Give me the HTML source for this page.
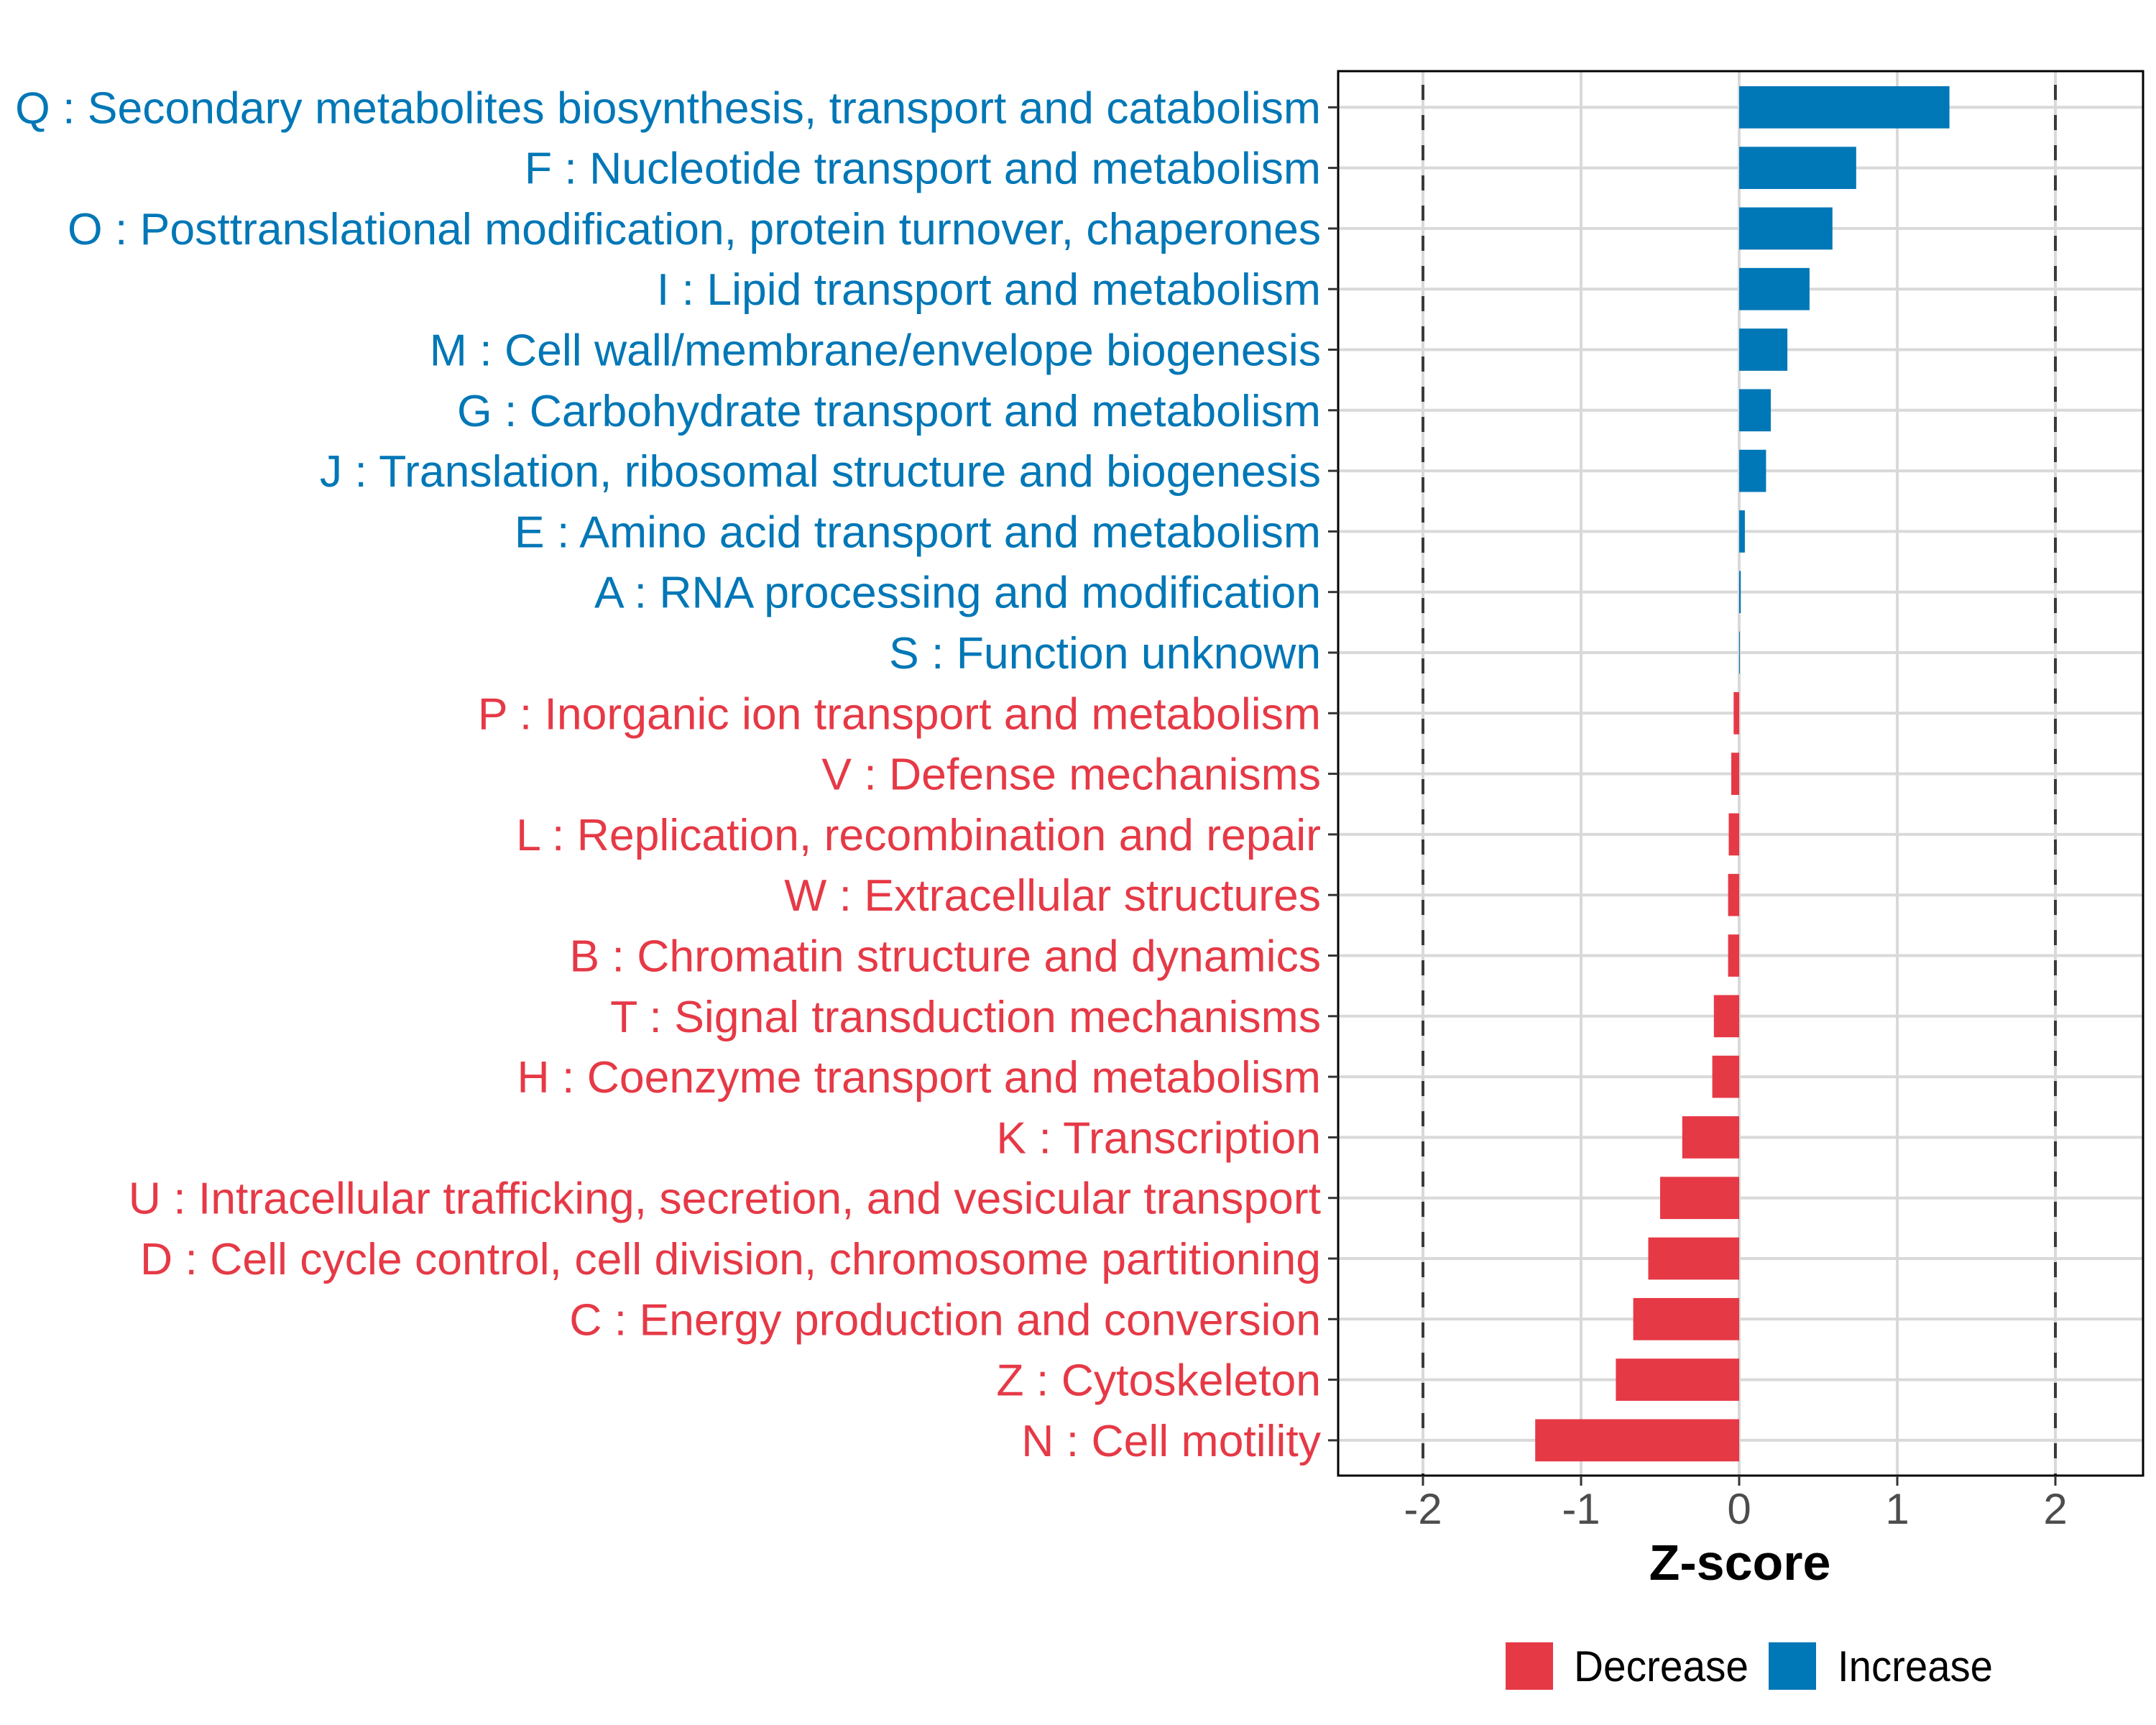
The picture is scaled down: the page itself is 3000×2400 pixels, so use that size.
<!DOCTYPE html>
<html><head><meta charset="utf-8"><style>
html,body{margin:0;padding:0;background:#fff;width:3000px;height:2400px;overflow:hidden}
svg{display:block;font-family:"Liberation Sans",Arial,sans-serif}
</style></head><body>
<svg id="chart" width="3000" height="2400" viewBox="0 0 3000 2400" xmlns="http://www.w3.org/2000/svg">
<g id="grid"></g>
<g id="bars"></g>
<g id="ref"></g>
<rect x="1862" y="99" width="1120" height="1954" fill="none" stroke="#000" stroke-width="3"/>
<g id="ylabels"></g>
<g id="xaxis"></g>
<text x="2421" y="2198" text-anchor="middle" font-size="70" font-weight="bold" fill="#000">Z-score</text>
<g>
<rect x="2095" y="2285" width="66" height="66" fill="#E63946"/>
<text x="2190" y="2339" font-size="60" fill="#000" textLength="243" lengthAdjust="spacingAndGlyphs">Decrease</text>
<rect x="2461" y="2285" width="66" height="66" fill="#0077B6"/>
<text x="2557" y="2339" font-size="60" fill="#000" textLength="216" lengthAdjust="spacingAndGlyphs">Increase</text>
</g>
</svg>
<script>
const categories = ["Q : Secondary metabolites biosynthesis, transport and catabolism","F : Nucleotide transport and metabolism","O : Posttranslational modification, protein turnover, chaperones","I : Lipid transport and metabolism","M : Cell wall/membrane/envelope biogenesis","G : Carbohydrate transport and metabolism","J : Translation, ribosomal structure and biogenesis","E : Amino acid transport and metabolism","A : RNA processing and modification","S : Function unknown","P : Inorganic ion transport and metabolism","V : Defense mechanisms","L : Replication, recombination and repair","W : Extracellular structures","B : Chromatin structure and dynamics","T : Signal transduction mechanisms","H : Coenzyme transport and metabolism","K : Transcription","U : Intracellular trafficking, secretion, and vesicular transport","D : Cell cycle control, cell division, chromosome partitioning","C : Energy production and conversion","Z : Cytoskeleton","N : Cell motility"];
const zscores = [1.33,0.74,0.59,0.445,0.305,0.20,0.17,0.036,0.01,0.004,-0.035,-0.05,-0.066,-0.07,-0.07,-0.16,-0.17,-0.36,-0.50,-0.575,-0.67,-0.78,-1.29];
const xTicks = [-2,-1,0,1,2];
const xTickLabels = ["-2","-1","0","1","2"];
const refLines = [-2,2];
const NS="http://www.w3.org/2000/svg";
const X0=2420, XU=220, Y0=149.3, YS=84.3, BH=58.7, PL=1862, PR=2982, PT=99, PB=2053;
const xs=v=>X0+v*XU, ys=i=>Y0+i*YS;
const blue="#0077B6", red="#E63946";
function mk(tag,attrs,parent){const e=document.createElementNS(NS,tag);for(const k in attrs)e.setAttribute(k,attrs[k]);parent.appendChild(e);return e;}
const grid=document.getElementById('grid'),bars=document.getElementById('bars'),ref=document.getElementById('ref'),yl=document.getElementById('ylabels'),xa=document.getElementById('xaxis');
xTicks.forEach((t,i)=>{
  const g=mk('line',{x1:xs(t),x2:xs(t),y1:PT,y2:PB,stroke:"#d9d9d9","stroke-width":4},grid);
  
  
  const tk=mk('line',{x1:xs(t),x2:xs(t),y1:PB,y2:PB+14,stroke:"#333","stroke-width":3},xa);
  
  
  const tl=mk('text',{x:xs(t),y:2120,"text-anchor":"middle","font-size":60,fill:"#4d4d4d"},xa);
  tl.textContent=xTickLabels[i];
  
  
});
categories.forEach((c,i)=>{
  const y=ys(i);
  const g=mk('line',{x1:PL,x2:PR,y1:y,y2:y,stroke:"#d9d9d9","stroke-width":4},grid);
  
  
  const v=zscores[i];
  const x1=Math.min(xs(0),xs(v)), w=Math.abs(xs(v)-xs(0));
  const b=mk('rect',{x:x1,y:y-BH/2,width:Math.max(w,1),height:BH,fill:v>=0?blue:red},bars);
  
  
  const tk=mk('line',{x1:PL-14,x2:PL,y1:y,y2:y,stroke:"#333","stroke-width":3},yl);
  
  
  const t=mk('text',{x:1838,y:y+22,"text-anchor":"end","font-size":62.5,fill:v>=0?blue:red},yl);
  t.textContent=c;
  
  
});
refLines.forEach(r=>{
  const l=mk('line',{x1:xs(r),x2:xs(r),y1:PT+19,y2:PB,stroke:"#3a3a3a","stroke-width":4,"stroke-dasharray":"21 21"},ref);
  
  
});
</script>
</body></html>
